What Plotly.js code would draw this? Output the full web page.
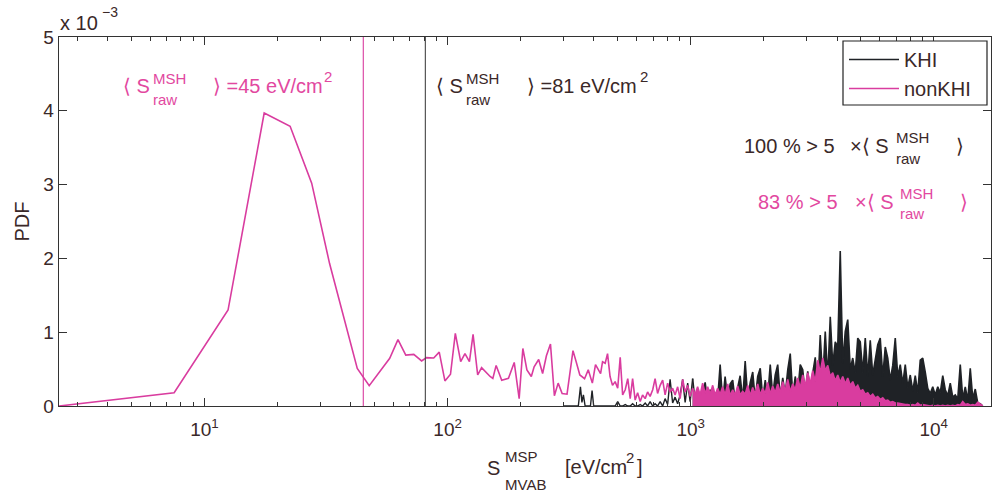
<!DOCTYPE html>
<html>
<head>
<meta charset="utf-8">
<script src="https://cdn.plot.ly/plotly-3.0.1.min.js"></script>
<style>html,body{margin:0;padding:0;background:#fff;}#chart{width:997px;height:495px;}</style>
</head>
<body>
<div id="chart"></div>
<script>
// ---- data (PDF values in units of 1e-3) ----
const meanNonKHI = 45;   // <S_raw^MSH> nonKHI [eV/cm^2]
const meanKHI = 81;      // <S_raw^MSH> KHI [eV/cm^2]

const pinkXLow = [2.52, 7.5, 12.5, 17.6, 22.5, 27.6, 32.7, 42.5, 47.6, 57.8, 62.5, 67.3, 72.6, 78.2, 81.9, 87.7, 92.4, 97.5, 102.8, 107.6, 113.2, 117.9, 123, 127.3, 133, 138, 149.6, 153.5, 158.4, 167, 178, 188, 197, 204, 212, 221, 227, 237, 246, 255, 265, 275, 285, 296, 310, 328, 338, 350, 366, 379, 394, 406, 426];
const pinkYLow = [0, 0.18, 1.30, 3.97, 3.79, 3.02, 1.93, 0.51, 0.275, 0.646, 0.90, 0.69, 0.70, 0.61, 0.655, 0.65, 0.73, 0.34, 0.43, 0.985, 0.60, 0.71, 0.60, 0.97, 0.42, 0.52, 0.40, 0.375, 0.55, 0.35, 0.375, 0.59, 0.10, 0.78, 0.49, 0.40, 0.53, 0.63, 0.44, 0.68, 0.84, 0.14, 0.31, 0.17, 0.16, 0.75, 0.60, 0.42, 0.37, 0.49, 0.31, 0.56, 0.44];

const blackXLow = [300, 345, 352, 357, 362, 368, 387, 393, 399, 420];
const blackYLow = [0, 0, 0.26, 0.05, 0.15, 0, 0, 0.21, 0, 0];

const denseX = [434, 445, 455, 466, 477, 489, 501, 513, 525, 538, 551, 564, 577, 591, 605, 620, 634, 650, 665, 681, 698, 714, 731, 749, 767, 785, 804, 823, 843, 863, 884, 905, 927, 949, 972, 995, 1019, 1043, 1068, 1094, 1120, 1147, 1175, 1203, 1232, 1261, 1291, 1322, 1354, 1386, 1420, 1454, 1489, 1524, 1561, 1598, 1637, 1676, 1717, 1758, 1800, 1843, 1887, 1933, 1979, 2027, 2075, 2125, 2175, 2228, 2281, 2336, 2392, 2449, 2508, 2568, 2630, 2693, 2757, 2823, 2891, 2960, 3031, 3104, 3178, 3255, 3333, 3412, 3494, 3578, 3664, 3752, 3841, 3934, 4028, 4124, 4223, 4325, 4428, 4534, 4643, 4754, 4868, 4985, 5104, 5227, 5352, 5480, 5611, 5746, 5883, 6024, 6169, 6317, 6468, 6623, 6782, 6945, 7111, 7282, 7456, 7635, 7817, 8005, 8197, 8393, 8594, 8800, 9011, 9227, 9448, 9675, 9906, 10144, 10387, 10636, 10891, 11152, 11419, 11693, 11973, 12260, 12554, 12855, 13163, 13478, 13801, 14132, 14471, 14818, 15173, 15536, 15909];

const pinkYDense = [0.60, 0.58, 0.71, 0.40, 0.28, 0.33, 0.24, 0.66, 0.15, 0.22, 0.37, 0.10, 0.37, 0.08, 0.18, 0.06, 0.15, 0.10, 0.19, 0.13, 0.22, 0.37, 0.17, 0.28, 0.35, 0.15, 0.31, 0.19, 0.24, 0.15, 0.26, 0.10, 0.36, 0.19, 0.28, 0.13,
  0.24, 0.16, 0.26, 0.15, 0.31, 0.17, 0.26, 0.16, 0.28, 0.15, 0.24, 0.16, 0.26, 0.15, 0.30, 0.14, 0.22, 0.15, 0.27, 0.15, 0.20, 0.16, 0.28, 0.14, 0.25, 0.16, 0.30, 0.15, 0.24, 0.17, 0.32, 0.16, 0.27, 0.18, 0.30, 0.18, 0.33, 0.20, 0.36, 0.19, 0.30, 0.22, 0.38, 0.24,
  0.42, 0.27, 0.45, 0.30, 0.48, 0.33, 0.62, 0.45, 0.65, 0.48, 0.55, 0.40, 0.45, 0.34, 0.42, 0.32, 0.40, 0.30, 0.38, 0.28, 0.33, 0.24, 0.28, 0.20, 0.22, 0.16, 0.18, 0.13, 0.16, 0.11, 0.13, 0.09, 0.11, 0.07, 0.08, 0.05, 0.06, 0.04, 0.04, 0.03, 0.03, 0.02, 0.02, 0.01, 0.02, 0.01,
  0.04, 0.01, 0.02, 0.01, 0.01, 0.00, 0.01, 0.00, 0.01, 0.00, 0.01, 0.00, 0.01, 0.00, 0.01, 0.00, 0.02, 0.01, 0.06, 0.02, 0.03, 0.01, 0.02, 0.01, 0.05, 0.02, 0.00];

const blackYDense = [0.00, 0.00, 0.00, 0.00, 0.00, 0.00, 0.06, 0.00, 0.00, 0.02, 0.00, 0.00, 0.03, 0.00, 0.00, 0.02, 0.00, 0.04, 0.00, 0.06, 0.00, 0.03, 0.00, 0.06, 0.00, 0.10, 0.02, 0.36, 0.04, 0.12, 0.03, 0.15, 0.36, 0.05, 0.31, 0.06,
  0.37, 0.05, 0.20, 0.04, 0.15, 0.32, 0.05, 0.22, 0.06, 0.18, 0.08, 0.56, 0.06, 0.40, 0.08, 0.30, 0.35, 0.07, 0.25, 0.41, 0.08, 0.61, 0.10, 0.32, 0.46, 0.09, 0.40, 0.51, 0.10, 0.35, 0.12, 0.56, 0.14, 0.42, 0.56, 0.12, 0.38, 0.15, 0.49, 0.71, 0.14, 0.40, 0.18, 0.56,
  0.49, 0.16, 0.47, 0.20, 0.45, 0.66, 0.22, 0.96, 0.35, 1.01, 0.38, 1.21, 0.55, 0.87, 0.80, 2.10, 0.58, 1.01, 1.17, 0.50, 0.65, 0.45, 0.92, 0.87, 0.45, 0.92, 0.40, 0.89, 0.42, 0.60, 0.83, 0.92, 0.40, 0.80, 0.65, 0.35, 0.55, 0.92, 0.40, 0.56,
  0.30, 0.56, 0.25, 0.42, 0.20, 0.41, 0.18, 0.62, 0.65, 0.46, 0.24, 0.17, 0.26, 0.15, 0.26, 0.18, 0.41, 0.22, 0.14, 0.31, 0.12, 0.15, 0.10, 0.56, 0.10, 0.26, 0.08, 0.51, 0.10, 0.23, 0.04, 0.03, 0.00];

const xTickVals = [10, 100, 1000, 10000];
const xTickText = ['10<sup>1</sup>', '10<sup>2</sup>', '10<sup>3</sup>', '10<sup>4</sup>'];
const yTickVals = [0, 1, 2, 3, 4, 5];
const yTickText = ['0', '1', '2', '3', '4', '5'];
const xMinorTicks = [3,4,5,6,7,8,9,20,30,40,50,60,70,80,90,200,300,400,500,600,700,800,900,2000,3000,4000,5000,6000,7000,8000,9000];

// ---- styling ----
const PINK = '#d93c9f';
const PINK_TXT = '#e2489f';
const BLACK = '#1f2226';
const TXT = '#3a2828';
const FONT = '"Liberation Sans", Arial, Helvetica, sans-serif';
const SPLIT = 36; // dense part (from ~1e3 on) is drawn as a filled mass

const L = 59, T = 37, W = 932, H = 369;
function ax(px) { return (px - L) / W; }
function ay(py) { return (T + H - py) / H; }
function ann(text, px, py, size, color) {
  return {text: text, xref: 'paper', yref: 'paper', x: ax(px), y: ay(py),
    xanchor: 'left', yanchor: 'middle', showarrow: false,
    font: {family: FONT, size: size, color: color}};
}

const traces = [
  {x: blackXLow.concat(denseX.slice(0, SPLIT + 1)), y: blackYLow.concat(blackYDense.slice(0, SPLIT + 1)),
   type: 'scatter', mode: 'lines', name: 'KHI', legendgroup: 'khi', line: {color: BLACK, width: 1.4}},
  {x: denseX.slice(SPLIT), y: blackYDense.slice(SPLIT),
   type: 'scatter', mode: 'lines', name: 'KHI', legendgroup: 'khi', showlegend: false,
   line: {color: BLACK, width: 1.6}, fill: 'tozeroy', fillcolor: BLACK},
  {x: pinkXLow.concat(denseX.slice(0, SPLIT + 1)), y: pinkYLow.concat(pinkYDense.slice(0, SPLIT + 1)),
   type: 'scatter', mode: 'lines', name: 'nonKHI', legendgroup: 'non', line: {color: PINK, width: 1.6}},
  {x: denseX.slice(SPLIT), y: pinkYDense.slice(SPLIT),
   type: 'scatter', mode: 'lines', name: 'nonKHI', legendgroup: 'non', showlegend: false,
   line: {color: PINK, width: 1.6}, fill: 'tozeroy', fillcolor: PINK},
  {x: [meanNonKHI, meanNonKHI], y: [0, 5], type: 'scatter', mode: 'lines', showlegend: false,
   line: {color: PINK, width: 1.1}, hoverinfo: 'skip'},
  {x: [meanKHI, meanKHI], y: [0, 5], type: 'scatter', mode: 'lines', showlegend: false,
   line: {color: '#444', width: 1.1}, hoverinfo: 'skip'}
];

const annotations = [
  ann('x 10', 58, 23, 20, TXT),
  ann('\u22123', 100, 12, 14, TXT),
  // pink mean
  ann('\u27E8 S', 121, 86, 20, PINK_TXT),
  ann('MSH', 151, 78, 15, PINK_TXT),
  ann('raw', 151, 99, 15, PINK_TXT),
  ann('\u27E9 =45 eV/cm', 211, 86, 20, PINK_TXT),
  ann('2', 322, 76, 15, PINK_TXT),
  // black mean
  ann('\u27E8 S', 434, 86, 20, TXT),
  ann('MSH', 464, 78, 15, TXT),
  ann('raw', 464, 99, 15, TXT),
  ann('\u27E9 =81 eV/cm', 525, 86, 20, TXT),
  ann('2', 638, 76, 15, TXT),
  // percentages
  ann('100 % > 5', 742, 146, 20, TXT),
  ann('\u00D7\u27E8 S', 848, 146, 20, TXT),
  ann('MSH', 894, 137, 15, TXT),
  ann('raw', 894, 158, 15, TXT),
  ann('\u27E9', 954, 146, 20, TXT),
  ann('83 % > 5', 756, 202, 20, PINK_TXT),
  ann('\u00D7\u27E8 S', 853, 202, 20, PINK_TXT),
  ann('MSH', 898, 193, 15, PINK_TXT),
  ann('raw', 898, 213, 15, PINK_TXT),
  ann('\u27E9', 958, 202, 20, PINK_TXT),
  // x title
  ann('S', 485, 468, 20, TXT),
  ann('MSP', 503, 456, 15, TXT),
  ann('MVAB', 503, 484, 15, TXT),
  ann('[eV/cm', 563, 467, 20, TXT),
  ann('2', 624, 457, 15, TXT),
  ann(']', 635, 467, 20, TXT)
];

const layout = {
  width: 997, height: 495,
  margin: {l: L, r: 997 - L - W, t: T, b: 495 - T - H},
  paper_bgcolor: '#fff', plot_bgcolor: '#fff',
  font: {family: FONT, size: 19, color: TXT},
  showlegend: true,
  legend: {x: ax(844), y: ay(40), xanchor: 'left', yanchor: 'top',
    borderwidth: 0, bgcolor: 'rgba(0,0,0,0)',
    font: {family: FONT, size: 20, color: TXT}, itemwidth: 50, tracegroupgap: 0},
  shapes: [
    {type: 'rect', xref: 'paper', yref: 'paper', x0: ax(843), x1: ax(987), y0: ay(105), y1: ay(41),
     line: {color: '#222', width: 1.2}, fillcolor: '#fff', layer: 'above'}
  ],
  xaxis: {type: 'log', range: [Math.log10(2.52), Math.log10(17200)],
    showline: true, linecolor: '#333', linewidth: 1.3, mirror: 'ticks',
    ticks: 'inside', ticklen: 8, tickcolor: '#333', tickwidth: 1,
    tickmode: 'array', tickvals: xTickVals, ticktext: xTickText, ticklabelstandoff: 6,
    tickfont: {family: FONT, size: 19, color: TXT},
    minor: {tickmode: 'array', tickvals: xMinorTicks, ticks: 'inside', ticklen: 4, tickcolor: '#333', tickwidth: 1},
    showgrid: false, zeroline: false},
  yaxis: {range: [0, 5],
    showline: true, linecolor: '#333', linewidth: 1.3, mirror: 'ticks',
    ticks: 'inside', ticklen: 8, tickcolor: '#333', tickwidth: 1,
    tickmode: 'array', tickvals: yTickVals, ticktext: yTickText,
    tickfont: {family: FONT, size: 19, color: TXT},
    title: {text: 'PDF', font: {family: FONT, size: 20, color: TXT}, standoff: 8},
    showgrid: false, zeroline: false},
  annotations: annotations
};

Plotly.newPlot('chart', traces, layout, {displayModeBar: false, staticPlot: true});
</script>
</body>
</html>
